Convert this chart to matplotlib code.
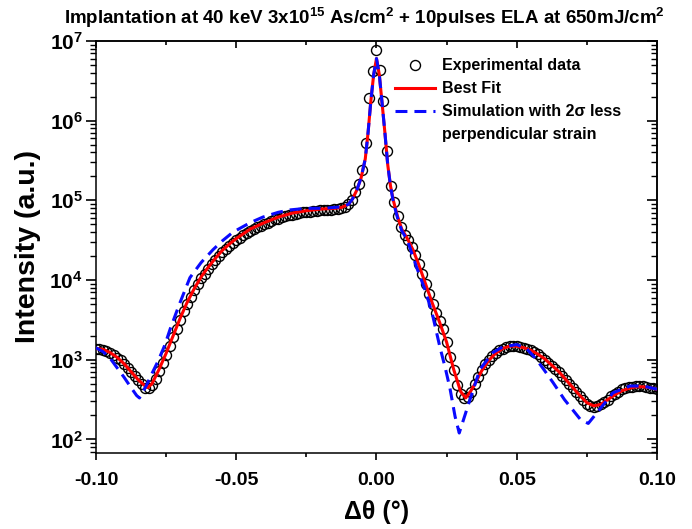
# plot.py
# HRXRD rocking curve: experimental data, best fit and strain simulation

import numpy as np
import matplotlib
matplotlib.use('Agg')
import matplotlib.pyplot as plt
from matplotlib.lines import Line2D
from matplotlib.ticker import MultipleLocator, LogLocator, FuncFormatter, NullFormatter

plt.rcParams['font.family'] = ['Liberation Sans', 'DejaVu Sans']
plt.rcParams['font.weight'] = 'bold'
plt.rcParams['axes.labelweight'] = 'bold'
plt.rcParams['mathtext.fontset'] = 'custom'
plt.rcParams['mathtext.rm'] = 'Liberation Sans:bold'
plt.rcParams['mathtext.bf'] = 'Liberation Sans:bold'
plt.rcParams['mathtext.it'] = 'Liberation Sans:bold'
plt.rcParams['mathtext.default'] = 'rm'

# Experimental data, sampled every 0.00125 deg from -0.1 to 0.1 (log10 of intensity)
exp_theta = np.linspace(-0.1, 0.1, 161)
exp_log = [
    3.13, 3.13, 3.12, 3.11, 3.08, 3.06, 3.02, 2.99, 2.95, 2.90,
    2.84, 2.79, 2.74, 2.69, 2.65, 2.64, 2.68, 2.76, 2.86, 2.96,
    3.06, 3.17, 3.28, 3.39, 3.50, 3.61, 3.70, 3.79, 3.87, 3.95,
    4.02, 4.08, 4.14, 4.20, 4.25, 4.30, 4.35, 4.39, 4.43, 4.47,
    4.50, 4.53, 4.56, 4.59, 4.62, 4.64, 4.66, 4.68, 4.70, 4.72,
    4.74, 4.76, 4.77, 4.79, 4.80, 4.81, 4.82, 4.83, 4.84, 4.85,
    4.86, 4.86, 4.87, 4.87, 4.88, 4.88, 4.88, 4.88, 4.89, 4.89,
    4.90, 4.92, 4.95, 5.01, 5.10, 5.20, 5.38, 5.72, 6.28, 6.62,
    6.89, 6.64, 6.25, 5.62, 5.18, 4.98, 4.80, 4.66, 4.57, 4.50,
    4.42, 4.31, 4.20, 4.07, 3.95, 3.83, 3.70, 3.59, 3.48, 3.38,
    3.22, 3.04, 2.87, 2.68, 2.57, 2.52, 2.53, 2.60, 2.69, 2.78,
    2.87, 2.94, 3.00, 3.05, 3.09, 3.12, 3.14, 3.16, 3.17, 3.17,
    3.17, 3.16, 3.15, 3.14, 3.12, 3.10, 3.07, 3.04, 3.00, 2.96,
    2.92, 2.88, 2.84, 2.79, 2.74, 2.69, 2.64, 2.59, 2.54, 2.49,
    2.45, 2.42, 2.41, 2.42, 2.44, 2.47, 2.50, 2.54, 2.57, 2.60,
    2.63, 2.65, 2.66, 2.66, 2.67, 2.67, 2.67, 2.66, 2.65, 2.64,
    2.63,
]

# Best fit curve
fit_theta = [
    -0.100, -0.0975, -0.095, -0.0925, -0.090, -0.0875, -0.085, -0.0825, -0.0815, -0.080,
    -0.0775, -0.075, -0.0725, -0.070, -0.0675, -0.065, -0.0625, -0.060, -0.0575, -0.055,
    -0.0525, -0.050, -0.045, -0.040, -0.035, -0.030, -0.025, -0.020, -0.015, -0.0125,
    -0.010, -0.0085, -0.007, -0.0055, -0.004, -0.003, -0.002, -0.001, 0.0, 0.001,
    0.002, 0.003, 0.004, 0.005, 0.006, 0.0075, 0.009, 0.011, 0.013, 0.015,
    0.0175, 0.020, 0.0225, 0.025, 0.0275, 0.030, 0.0318, 0.0335, 0.035, 0.0375,
    0.040, 0.0425, 0.045, 0.0475, 0.050, 0.0525, 0.055, 0.0575, 0.060, 0.0625,
    0.065, 0.0675, 0.070, 0.0725, 0.075, 0.0775, 0.080, 0.0825, 0.085, 0.0875,
    0.090, 0.0925, 0.095, 0.0975, 0.100,
]
fit_log = [
    3.14, 3.13, 3.09, 3.03, 2.95, 2.85, 2.75, 2.67, 2.65, 2.70,
    2.88, 3.08, 3.30, 3.52, 3.72, 3.89, 4.04, 4.16, 4.27, 4.37,
    4.45, 4.52, 4.64, 4.72, 4.79, 4.84, 4.87, 4.89, 4.90, 4.91,
    4.95, 5.02, 5.13, 5.28, 5.52, 5.85, 6.25, 6.58, 6.78, 6.58,
    6.22, 5.85, 5.45, 5.18, 5.00, 4.80, 4.64, 4.52, 4.38, 4.20,
    3.95, 3.70, 3.47, 3.22, 2.88, 2.60, 2.52, 2.60, 2.69, 2.86,
    2.99, 3.08, 3.14, 3.17, 3.17, 3.15, 3.12, 3.07, 3.01, 2.93,
    2.85, 2.75, 2.65, 2.55, 2.46, 2.42, 2.44, 2.50, 2.56, 2.61,
    2.64, 2.66, 2.66, 2.65, 2.63,
]

# Simulation with 2 sigma less perpendicular strain
sim_theta = [
    -0.100, -0.0975, -0.095, -0.0925, -0.090, -0.0875, -0.0855, -0.0845, -0.082, -0.080,
    -0.0779, -0.0755, -0.0736, -0.0715, -0.070, -0.0665, -0.0625, -0.0583, -0.055, -0.0512,
    -0.045, -0.0405, -0.035, -0.0308, -0.025, -0.019, -0.012, -0.010, -0.0085, -0.007,
    -0.0055, -0.004, -0.003, -0.002, -0.001, 0.0, 0.001, 0.002, 0.003, 0.004,
    0.005, 0.006, 0.0075, 0.009, 0.011, 0.0143, 0.0175, 0.020, 0.0226, 0.0245,
    0.0262, 0.028, 0.0295, 0.0326, 0.0369, 0.0415, 0.045, 0.050, 0.0535, 0.0571,
    0.060, 0.063, 0.067, 0.0727, 0.0755, 0.0785, 0.0843, 0.0904, 0.095, 0.100,
]
sim_log = [
    3.15, 3.10, 3.02, 2.90, 2.78, 2.65, 2.55, 2.52, 2.68, 2.83,
    2.98, 3.18, 3.38, 3.58, 3.72, 4.03, 4.22, 4.38, 4.49, 4.60,
    4.72, 4.79, 4.85, 4.88, 4.90, 4.90, 4.92, 4.95, 5.02, 5.13,
    5.28, 5.52, 5.85, 6.25, 6.58, 6.78, 6.58, 6.22, 5.85, 5.45,
    5.18, 4.98, 4.78, 4.62, 4.50, 4.16, 3.86, 3.56, 3.16, 2.90,
    2.64, 2.29, 2.08, 2.42, 2.88, 3.09, 3.16, 3.19, 3.14, 3.00,
    2.86, 2.71, 2.50, 2.25, 2.20, 2.33, 2.585, 2.67, 2.67, 2.63,
]

fig = plt.figure(figsize=(6.92, 5.29), dpi=100)
ax = fig.add_axes([0.1387, 0.1442, 0.8107, 0.7783])

ax.plot(exp_theta, 10 ** np.array(exp_log), 'o', mfc='none', mec='black', ms=7.2, mew=1.0,
        label='Experimental data', zorder=2)
ax.plot(fit_theta, 10 ** np.array(fit_log), color='red', lw=2.2, label='Best Fit', zorder=3)
ax.plot(sim_theta, 10 ** np.array(sim_log), color='#0a0aff', lw=2.2, dashes=(3.9, 2.3),
        label='Simulation with 2\u03c3 less', zorder=4)

ax.set_yscale('log')
ax.set_xlim(-0.1, 0.1)
ax.set_ylim(68, 1e7)

# Ticks: outward on bottom/left, inward mirrored on top/right
ax.xaxis.set_major_locator(MultipleLocator(0.05))
ax.xaxis.set_minor_locator(MultipleLocator(0.025))
ax.xaxis.set_major_formatter(FuncFormatter(lambda v, p: f'{v:.2f}'))
ax.yaxis.set_major_locator(LogLocator(base=10, numticks=10))
ax.yaxis.set_minor_locator(LogLocator(base=10, subs=np.arange(2, 10), numticks=12))
ax.yaxis.set_minor_formatter(NullFormatter())
ax.yaxis.set_major_formatter(FuncFormatter(lambda v, p: f'$10^{{{int(round(np.log10(v)))}}}$'))
ax.tick_params(axis='x', which='major', direction='out', length=5, width=1.2, labelsize=14, pad=9)
ax.tick_params(axis='x', which='minor', direction='out', length=3, width=1.2)
ax.tick_params(axis='y', which='major', direction='out', length=7.5, width=1.2, labelsize=15, pad=2)
ax.tick_params(axis='y', which='minor', direction='out', length=4, width=1.0)

top = ax.secondary_xaxis('top')
top.xaxis.set_major_locator(MultipleLocator(0.05))
top.xaxis.set_minor_locator(MultipleLocator(0.025))
top.tick_params(which='major', direction='in', length=5, width=1.2, labeltop=False)
top.tick_params(which='minor', direction='in', length=3, width=1.2)

right = ax.secondary_yaxis('right')
right.yaxis.set_major_locator(LogLocator(base=10, numticks=10))
right.yaxis.set_minor_locator(LogLocator(base=10, subs=np.arange(2, 10), numticks=12))
right.yaxis.set_minor_formatter(NullFormatter())
right.tick_params(which='major', direction='in', length=7.5, width=1.2, labelright=False)
right.tick_params(which='minor', direction='in', length=4, width=1.0)

for s in list(ax.spines.values()) + [top.spines['top'], right.spines['right']]:
    s.set_linewidth(1.1)

ax.set_xlabel('\u0394\u03b8 (\u00b0)', fontsize=18, fontweight='bold', labelpad=8)
ax.set_ylabel('Intensity (a.u.)', fontsize=20.5, fontweight='bold', labelpad=6)

fig.text(0.526, 0.966, 'Implantation at 40 keV 3x10$^{15}$ As/cm$^{2}$ + 10pulses ELA at 650mJ/cm$^{2}$',
         ha='center', va='center', fontsize=13.5, fontweight='bold')

# Legend, with the wrapped second line of the simulation label as a blank entry
handles, labels = ax.get_legend_handles_labels()
handles.append(Line2D([], [], color='none'))
labels.append('perpendicular strain')
ax.legend(handles, labels, loc='upper left', bbox_to_anchor=(0.533, 0.958), frameon=False,
          fontsize=11.5, handlelength=2.5, handletextpad=0.45, labelspacing=0.5,
          borderpad=0, borderaxespad=0)

fig.savefig('out.png', dpi=100)
